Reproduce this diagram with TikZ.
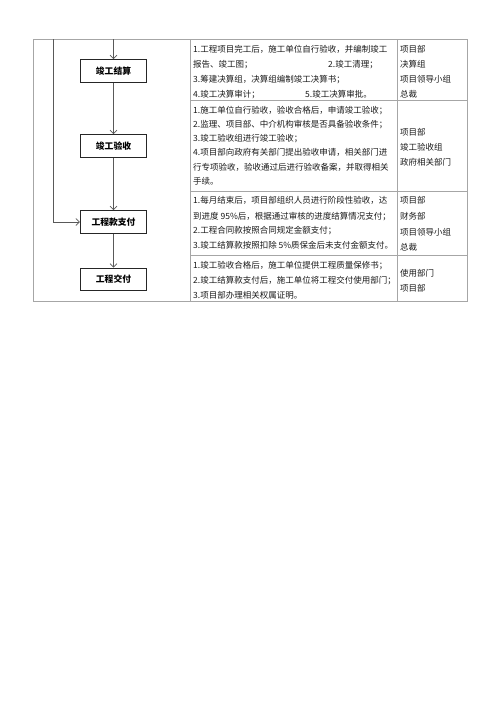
\documentclass[tikz,border=0pt]{standalone}
\usepackage{fontspec}
\setmainfont{Noto Sans CJK SC}
\usetikzlibrary{arrows.meta}
\tikzset{
  tbl/.style={draw=black!35, line width=0.8pt},
  flowline/.style={draw=black!65, line width=0.7pt, -{Straight Barb[length=3.5pt,width=7pt,line width=0.7pt]}},
  stepbox/.style={draw=black!85, line width=1.1pt, minimum width=66pt, minimum height=22.5pt, inner sep=0pt, font=\fontsize{8.8pt}{10pt}\selectfont\bfseries},
  txt/.style={anchor=base west, inner sep=0pt, font=\fontsize{8.5pt}{10pt}\selectfont, text=black!90},
}
\begin{document}
\begin{tikzpicture}[x=1pt,y=-1pt]
\useasboundingbox (0,0) rectangle (500,707);
% table
\draw[tbl] (33,39) rectangle (467,301);
\draw[tbl] (190,39) -- (190,301);
\draw[tbl] (397,39) -- (397,301);
\draw[tbl] (190,100) -- (467,100);
\draw[tbl] (190,191) -- (467,191);
\draw[tbl] (190,255) -- (467,255);
% flow boxes
\node[stepbox] (b1) at (113.5,71) {竣工结算};
\node[stepbox] (b2) at (113.5,146) {竣工验收};
\node[stepbox] (b3) at (113.5,222) {工程款支付};
\node[stepbox] (b4) at (113.5,279.5) {工程交付};
\coordinate (in1) at (113.5,39.4);
\coordinate (fb) at (53,39.4);
\draw[flowline] (in1) -- (b1);
\draw[flowline] (b1) -- (b2);
\draw[flowline] (b2) -- (b3);
\draw[flowline] (b3) -- (b4);
\draw[flowline] (fb) |- (b3.west);
% row 1
\node[txt] (r1a) at (193,52) {1.工程项目完工后，施工单位自行验收，并编制竣工};
\node[txt] (r1b) at (193,67) {报告、竣工图；};
\node[txt] (r1c) at (328,67) {2.竣工清理；};
\node[txt] (r1d) at (193,82) {3.筹建决算组，决算组编制竣工决算书；};
\node[txt] (r1e) at (193,97) {4.竣工决算审计；};
\node[txt] (r1f) at (305,97) {5.竣工决算审批。};
\node[txt] (d1a) at (400,52) {项目部};
\node[txt] (d1b) at (400,67) {决算组};
\node[txt] (d1c) at (400,82) {项目领导小组};
\node[txt] (d1d) at (400,97) {总裁};
% row 2
\node[txt] (r2a) at (193,113) {1.施工单位自行验收，验收合格后，申请竣工验收；};
\node[txt] (r2b) at (193,127) {2.监理、项目部、中介机构审核是否具备验收条件；};
\node[txt] (r2c) at (193,141) {3.竣工验收组进行竣工验收；};
\node[txt] (r2d) at (193,155) {4.项目部向政府有关部门提出验收申请，相关部门进};
\node[txt] (r2e) at (193,170) {行专项验收，验收通过后进行验收备案，并取得相关};
\node[txt] (r2f) at (193,184) {手续。};
\node[txt] (d2a) at (400,135) {项目部};
\node[txt] (d2b) at (400,150) {竣工验收组};
\node[txt] (d2c) at (400,165) {政府相关部门};
% row 3
\node[txt] (r3a) at (193,203) {1.每月结束后，项目部组织人员进行阶段性验收，达};
\node[txt] (r3b) at (193,219) {到进度 95\%后，根据通过审核的进度结算情况支付；};
\node[txt] (r3c) at (193,233) {2.工程合同款按照合同规定金额支付；};
\node[txt] (r3d) at (193,248) {3.竣工结算款按照扣除 5\%质保金后未支付金额支付。};
\node[txt] (d3a) at (400,203) {项目部};
\node[txt] (d3b) at (400,219) {财务部};
\node[txt] (d3c) at (400,235) {项目领导小组};
\node[txt] (d3d) at (400,250) {总裁};
% row 4
\node[txt] (r4a) at (193,268) {1.竣工验收合格后，施工单位提供工程质量保修书；};
\node[txt] (r4b) at (193,283) {2.竣工结算款支付后，施工单位将工程交付使用部门；};
\node[txt] (r4c) at (193,298) {3.项目部办理相关权属证明。};
\node[txt] (d4a) at (400,276) {使用部门};
\node[txt] (d4b) at (400,291) {项目部};
\end{tikzpicture}
\end{document}
